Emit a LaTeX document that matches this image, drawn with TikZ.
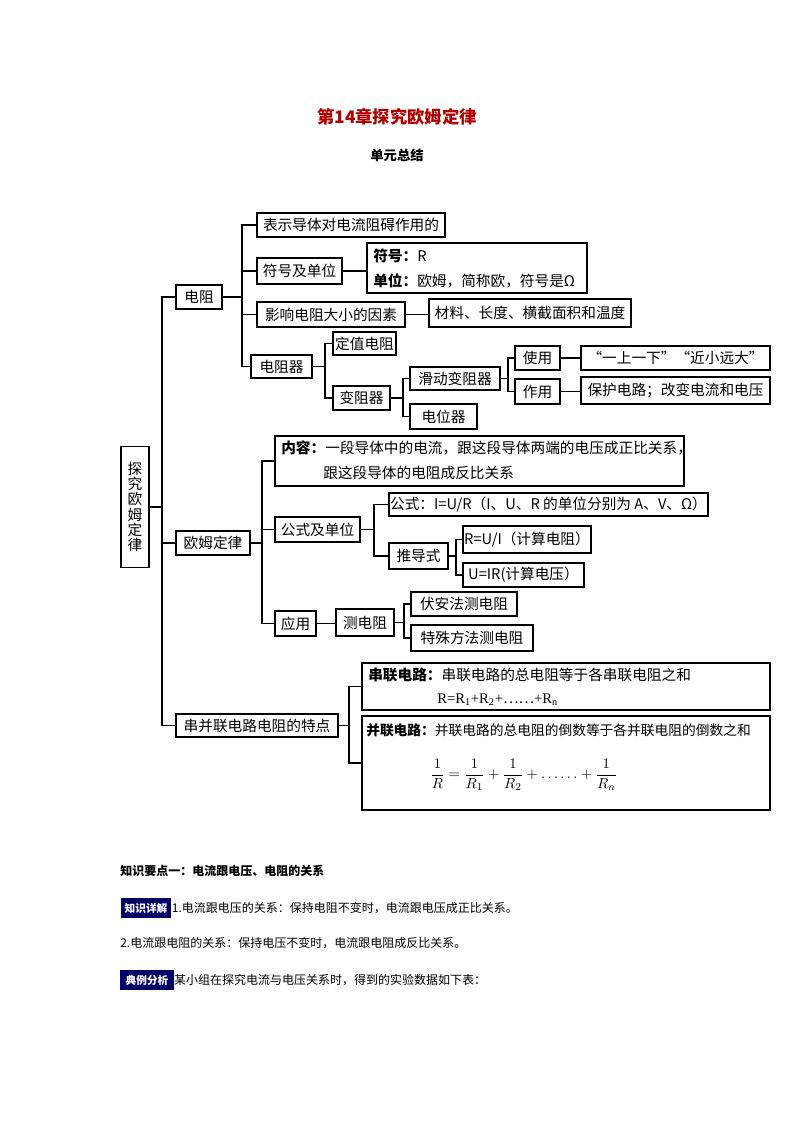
\documentclass[tikz,border=0pt]{standalone}
\usepackage{fontspec}
\setmainfont{Liberation Serif}
\newfontfamily\cjk{Noto Sans CJK SC}
\begin{document}
\begin{tikzpicture}[x=0.75pt,y=-0.75pt,
  bx/.style={draw,line width=0.8pt,inner sep=0pt,font=\cjk\fontsize{11}{13}\selectfont},
  ln/.style={line width=0.8pt},
  txt/.style={inner sep=0pt,anchor=west,font=\cjk\fontsize{11}{13}\selectfont}]
\useasboundingbox (0,0) rectangle (794,1123);
\newcommand\bx[6]{\node[bx,minimum width={(#4-#2)*0.75pt},minimum height={(#5-#3)*0.75pt}] (#1) at ({(#2+#4)/2},{(#3+#5)/2}) {#6};}
\node[font=\cjk\bfseries\fontsize{13}{15}\selectfont,text=red!70!black] (title) at (397,117) {第14章探究欧姆定律};
\node[font=\cjk\bfseries\fontsize{10}{12}\selectfont] (sub) at (397,155) {单元总结};
% root
\node[bx,minimum width=21pt,minimum height={121*0.75pt},align=center,font=\cjk\fontsize{11}{11.5}\selectfont] (root) at (135,507) {探\\究\\欧\\姆\\定\\律};
\coordinate (T0) at (162,0); \coordinate (T1) at (242,0); \coordinate (T2) at (325,0);
\coordinate (T3) at (403,0); \coordinate (T4) at (508,0); \coordinate (T5) at (262,0);
\coordinate (T6) at (374,0); \coordinate (T7) at (456,0); \coordinate (T8) at (404,0);
\coordinate (T9) at (349,0);
\bx{dz}{176}{285}{222}{309}{电阻}
\bx{a1}{257}{213}{445}{237}{表示导体对电流阻碍作用的}
\bx{a2}{257}{258}{342}{284}{符号及单位}
\bx{a2b}{367}{243}{587}{293}{}
\node[txt] (a2t1) at (373,256) {\textbf{符号：}R};
\node[txt] (a2t2) at (373,281) {\textbf{单位：}欧姆，简称欧，符号是Ω};
\bx{a3}{257}{302}{405}{327}{影响电阻大小的因素}
\bx{a3b}{429}{299}{631}{327}{材料、长度、横截面积和温度}
\bx{a4}{251}{355}{312}{378}{电阻器}
\bx{b1}{333}{332}{396}{355}{定值电阻}
\bx{b2}{333}{386}{390}{410}{变阻器}
\bx{c1}{410}{367}{500}{390}{滑动变阻器}
\bx{c2}{410}{404}{477}{429}{电位器}
\bx{d1}{515}{346}{560}{370}{使用}
\bx{d2}{515}{379}{560}{404}{作用}
\bx{e1}{581}{346}{770}{370}{“一上一下”“近小远大”}
\bx{e2}{581}{377}{770}{404}{保护电路；改变电流和电压}
% ohm
\bx{om}{176}{531}{250}{555}{欧姆定律}
\bx{f1}{275}{436}{684}{486}{}
\node[txt] (f1a) at (281,448) {\textbf{内容：}一段导体中的电流，跟这段导体两端的电压成正比关系，};
\node[txt] (f1b) at (323,473) {跟这段导体的电阻成反比关系};
\bx{f2}{275}{517}{360}{542}{公式及单位}
\bx{g1}{389}{493}{708}{516}{公式：I=U/R（I、U、R 的单位分别为 A、V、Ω）}
\bx{g2}{389}{543}{448}{569}{推导式}
\bx{h1}{463}{526}{591}{553}{R=U/I（计算电阻）}
\bx{h2}{463}{563}{584}{587}{U=IR(计算电压）}
\bx{f3}{275}{611}{316}{636}{应用}
\bx{i1}{336}{609}{394}{636}{测电阻}
\bx{j1}{411}{592}{517}{616}{伏安法测电阻}
\bx{j2}{411}{625}{533}{651}{特殊方法测电阻}
% series parallel
\bx{sp}{176}{714}{338}{737}{串并联电路电阻的特点}
\bx{k1}{362}{663}{770}{710}{}
\node[txt] (k1a) at (368,675) {\textbf{串联电路：}串联电路的总电阻等于各串联电阻之和};
\node[txt,font=\fontsize{11}{13}\selectfont] (k1b) at (437,700) {R=R\textsubscript{1}+R\textsubscript{2}+{\cjk ⋯⋯}+R\textsubscript{n}};
\bx{k2}{362}{716}{770}{810}{}
\node[txt,font=\cjk\fontsize{10.3}{13}\selectfont] (k2a) at (366,730) {\textbf{并联电路：}并联电路的总电阻的倒数等于各并联电阻的倒数之和};
\node[txt] (k2b) at (430,775) {$\displaystyle \frac{1}{R}=\frac{1}{R_1}+\frac{1}{R_2}+\ldots\ldots+\frac{1}{R_n}$};
% connectors
\foreach \c in {dz,om,sp} \draw[ln] (root.east) -- (root.east -| T0) |- (\c.west);
\foreach \c in {a1,a2,a3,a4} \draw[ln] (dz.east) -- (dz.east -| T1) |- (\c.west);
\draw[ln] (a2.east) -- (a2b.west |- a2.east);
\draw[ln] (a3.east) -- (a3b.west |- a3.east);
\foreach \c in {b1,b2} \draw[ln] (a4.east) -- (a4.east -| T2) |- (\c.west);
\foreach \c in {c1,c2} \draw[ln] (b2.east) -- (b2.east -| T3) |- (\c.west);
\foreach \c in {d1,d2} \draw[ln] (c1.east) -- (c1.east -| T4) |- (\c.west);
\draw[ln] (d1.east) -- (e1.west |- d1.east);
\draw[ln] (d2.east) -- (e2.west |- d2.east);
\foreach \c in {f1,f2,f3} \draw[ln] (om.east) -- (om.east -| T5) |- (\c.west);
\foreach \c in {g1,g2} \draw[ln] (f2.east) -- (f2.east -| T6) |- (\c.west);
\foreach \c in {h1,h2} \draw[ln] (g2.east) -- (g2.east -| T7) |- (\c.west);
\draw[ln] (f3.east) -- (i1.west |- f3.east);
\foreach \c in {j1,j2} \draw[ln] (i1.east) -- (i1.east -| T8) |- (\c.west);
\foreach \c in {k1,k2} \draw[ln] (sp.east) -- (sp.east -| T9) |- (\c.west);
% bottom text
\node[txt,font=\cjk\bfseries\fontsize{9}{11}\selectfont] (kp) at (120,871) {知识要点一：电流跟电压、电阻的关系};
\node[inner sep=0pt,fill=blue!40!black,text=white,minimum width=38pt,minimum height=15pt,font=\cjk\bfseries\fontsize{8}{9}\selectfont] (bd1) at (146,908) {知识详解};
\node[txt,font=\cjk\fontsize{9}{11}\selectfont] (p1) at (bd1.east) {1.电流跟电压的关系：保持电阻不变时，电流跟电压成正比关系。};
\node[txt,font=\cjk\fontsize{9}{11}\selectfont] (p2) at (120,943) {2.电流跟电阻的关系：保持电压不变时，电流跟电阻成反比关系。};
\node[inner sep=0pt,fill=blue!40!black,text=white,minimum width=40pt,minimum height=15pt,font=\cjk\bfseries\fontsize{8}{9}\selectfont] (bd2) at (147,980) {典例分析};
\node[txt,font=\cjk\fontsize{9}{11}\selectfont] (p3) at (bd2.east) {某小组在探究电流与电压关系时，得到的实验数据如下表：};
\end{tikzpicture}
\end{document}
